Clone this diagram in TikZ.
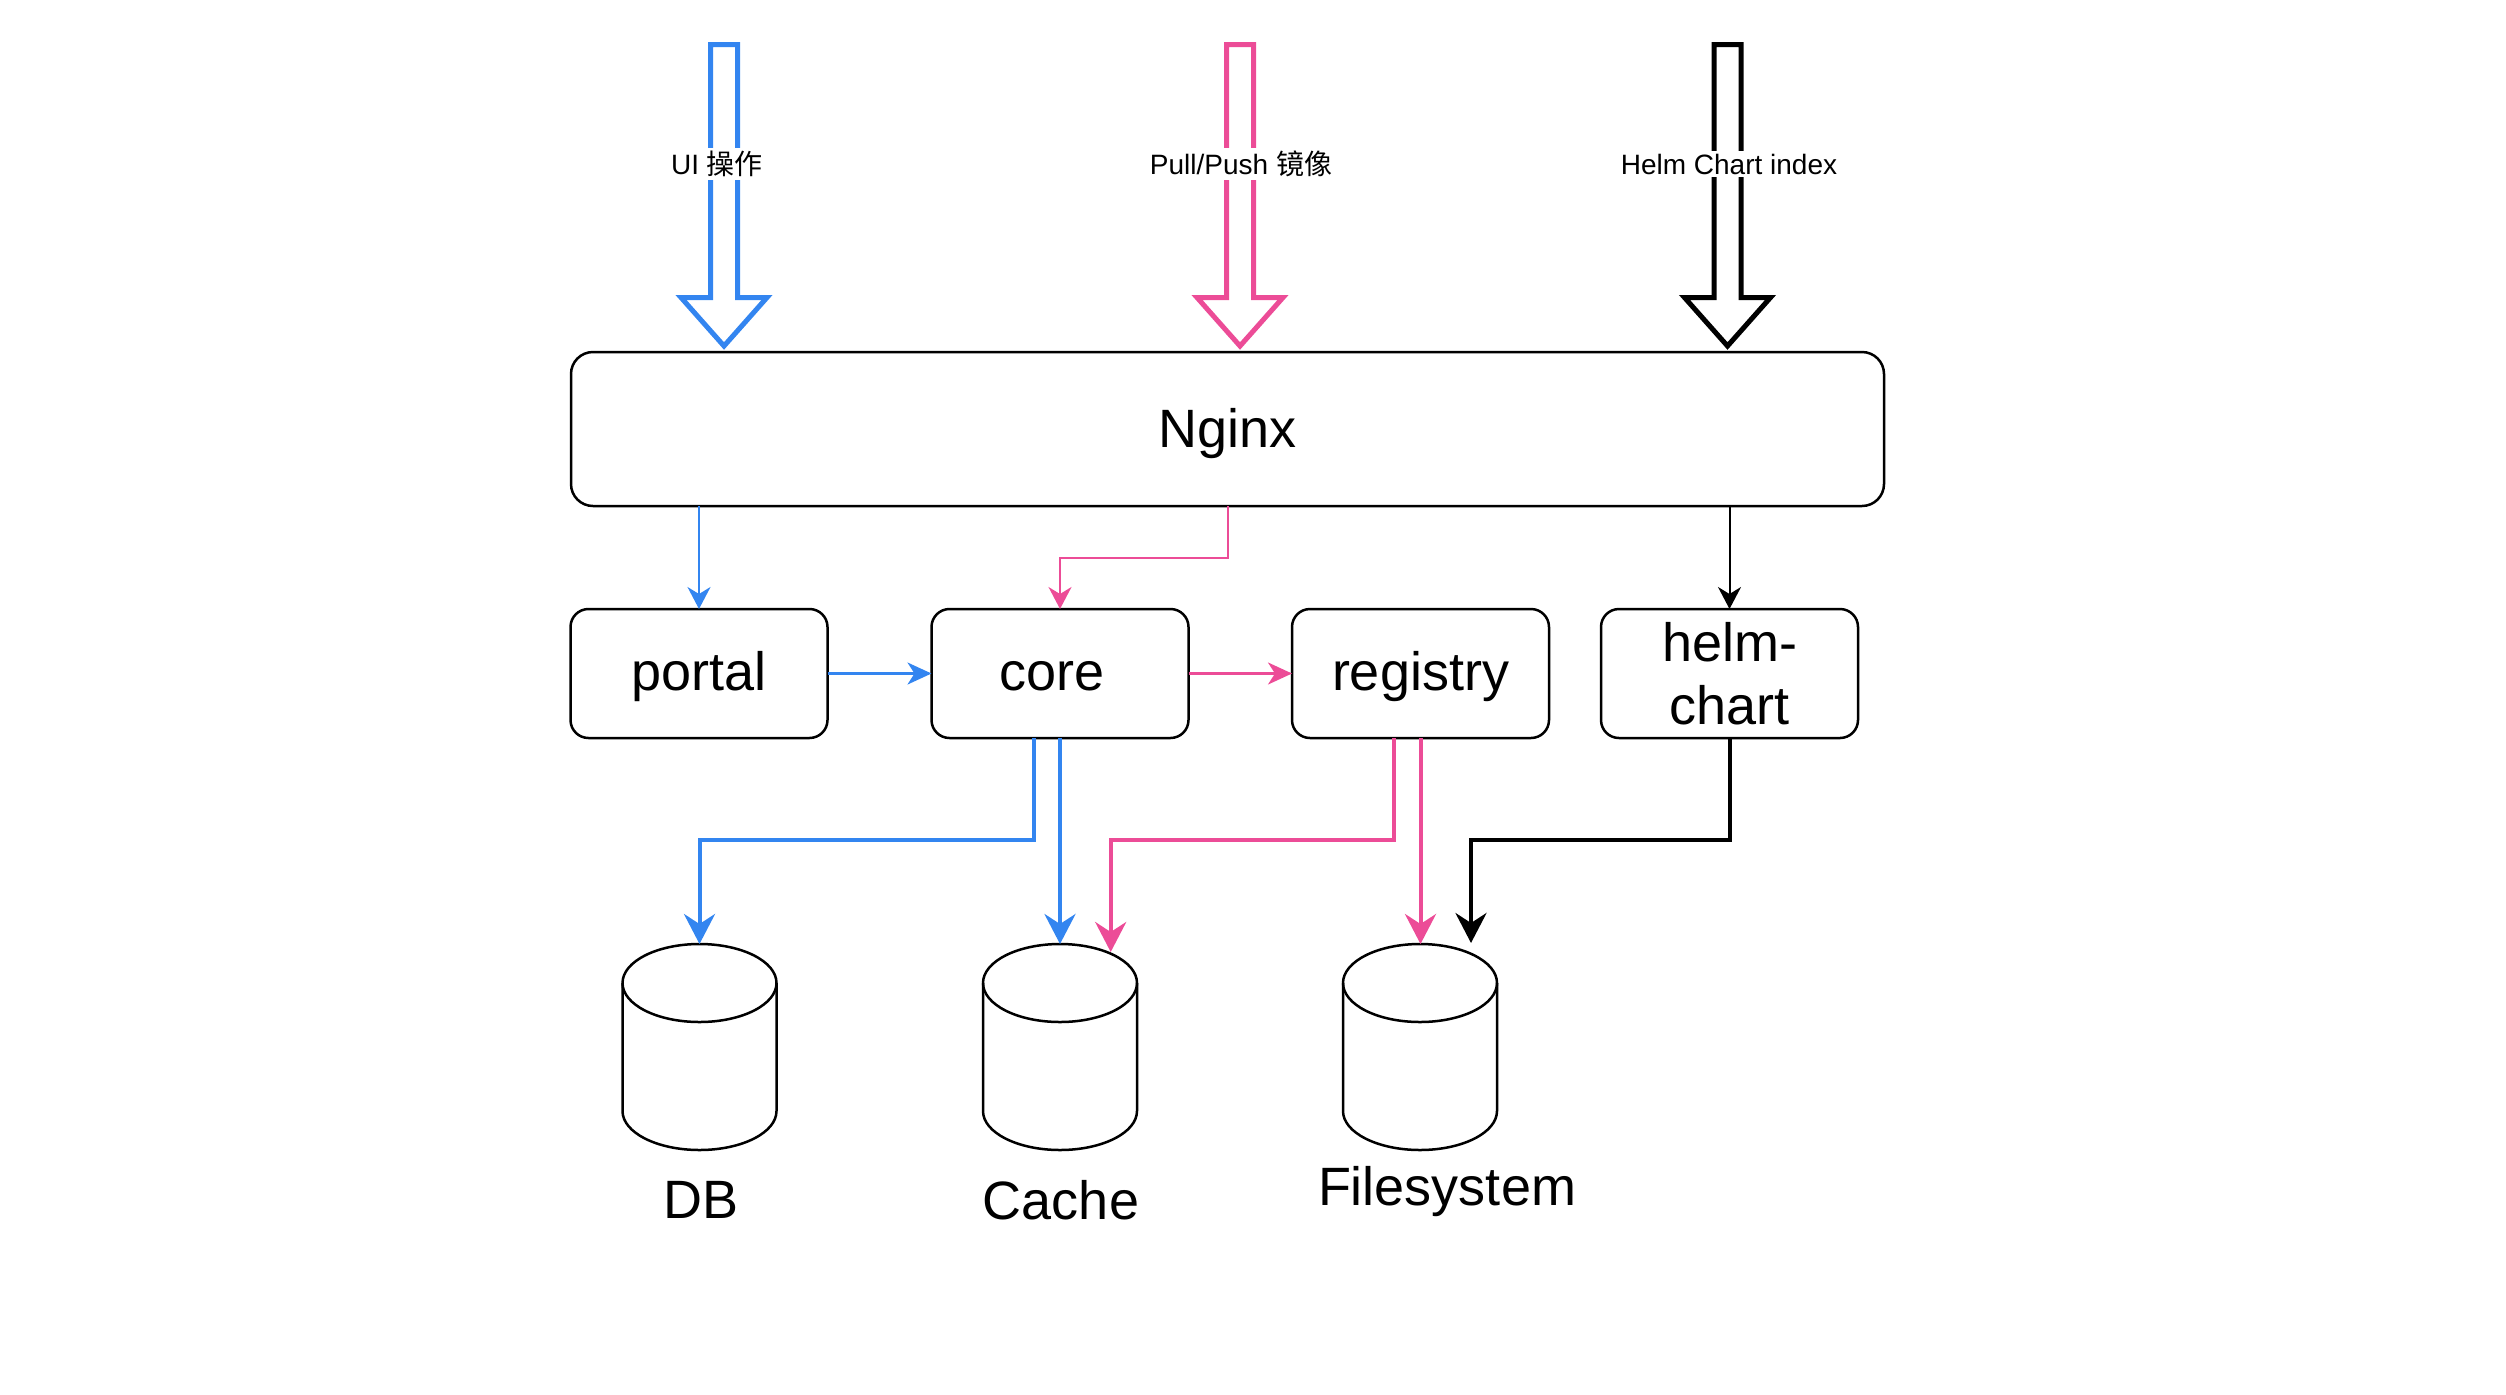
\documentclass[tikz,border=0pt]{standalone}
\usepackage{fontspec}
\setmainfont{Liberation Sans}
\newfontfamily\cjk{Noto Sans CJK SC}
\usetikzlibrary{arrows.meta,shapes.geometric}
\definecolor{myblue}{RGB}{51,133,240}
\definecolor{mypink}{RGB}{236,76,151}
\newcommand{\hollowarrow}[2]{%
  \draw[line width=2.5pt, #1, miter limit=10]
    (#2-13.5,44.5) -- (#2-13.5,297.5) -- (#2-43,297.5) -- (#2,346)
    -- (#2+43,297.5) -- (#2+13.5,297.5) -- (#2+13.5,44.5) -- cycle;}
\newcommand{\lowered}[2]{\raisebox{-#1}[\height][\depth]{#2}}
\begin{document}
\begin{tikzpicture}[x=0.5pt,y=-0.5pt,
  box/.style={draw, line width=1.25pt, rounded corners=9pt,
    minimum width=128.5pt, minimum height=64.5pt, inner sep=0pt, outer sep=0pt,
    align=center, font=\fontsize{27pt}{31.5pt}\selectfont},
  bigbox/.style={box, rounded corners=11pt, minimum width=656.5pt, minimum height=77pt},
  cyltop/.style={draw, ellipse, line width=1.25pt, minimum width=77pt,
    minimum height=39pt, inner sep=0pt, outer sep=0pt},
  cylbody/.style={line width=1.25pt},
  dblabel/.style={anchor=base, inner sep=0pt, font=\fontsize{27pt}{31.5pt}\selectfont},
  toplabel/.style={fill=white, inner sep=1.5pt, font=\fontsize{14pt}{16pt}\selectfont},
  thinarr/.style={line width=1pt, -{Stealth[length=11pt, width=11.5pt, inset=3.5pt]}},
  midarr/.style={line width=1.25pt, -{Stealth[length=12pt, width=11pt, inset=3.5pt]}},
  thickarr/.style={line width=2pt, -{Stealth[length=15pt, width=15.5pt, inset=5pt]}}
]
\useasboundingbox (0,0) rectangle (2506,1394);

% big incoming arrows
\hollowarrow{myblue}{724}
\hollowarrow{mypink}{1240}
\hollowarrow{black}{1727.5}
\node[toplabel] (uilabel) at (717,164) {UI {\cjk 操作}};
\node[toplabel] (pulllabel) at (1241,164) {Pull/Push {\cjk 镜像}};
\node[toplabel] (helmlabel) at (1729,164) {Helm Chart index};

% boxes
\node[bigbox] (nginx) at (1227.5,429) {\lowered{2.5pt}{Nginx}};
\node[box] (portal) at (699,673.5) {\lowered{1.5pt}{portal}};
\node[box] (core) at (1060,673.5) {\hspace*{-8pt}\lowered{1.5pt}{core}};
\node[box] (registry) at (1420.5,673.5) {\lowered{1.5pt}{registry}};
\node[box] (helm) at (1729.5,673.5) {helm-\\chart};

% cylinders
\node[cyltop] (dbtop) at (699.5,983) {};
\node[cyltop] (cachetop) at (1060,983) {};
\node[cyltop] (fstop) at (1420,983) {};
\foreach \c in {dbtop,cachetop,fstop}{
  \draw[cylbody] (\c.west) -- ++(0,128)
    arc[start angle=180, end angle=360, x radius=38.5pt, y radius=19.5pt]
    -- (\c.east);
}
\node[dblabel] (dblab) at (701,1218) {DB};
\node[dblabel] (cachelab) at (1061,1219) {Cache};
\node[dblabel] (fslab) at (1447,1205) {Filesystem};

% helper coordinates
\coordinate (elbow) at (0,558);
\coordinate (busy) at (0,840);
\coordinate (cachein) at (1110.7,952);
\coordinate (fsin) at (1471,943);

% Nginx to services
\draw[thinarr, myblue] (nginx.south -| portal.north) -- (portal.north);
\draw[thinarr, mypink] (nginx.south) |- (elbow -| core.north) -- (core.north);
\draw[thinarr, black] (nginx.south -| helm.north) -- (helm.north);

% horizontal
\draw[midarr, myblue] (portal.east) -- (core.west);
\draw[midarr, mypink] (core.east) -- (registry.west);

% to storage
\draw[thickarr, myblue] ([xshift=-13pt]core.south) |- (busy -| dbtop.north) -- (dbtop.north);
\draw[thickarr, myblue] (core.south) -- (core.south |- cachetop.north);
\draw[thickarr, mypink] ([xshift=-13.5pt]registry.south) |- (busy -| cachein) -- (cachein);
\draw[thickarr, mypink] (registry.south) -- (registry.south |- fstop.north);
\draw[thickarr, black] (helm.south) |- (busy -| fsin) -- (fsin);
\end{tikzpicture}
\end{document}
